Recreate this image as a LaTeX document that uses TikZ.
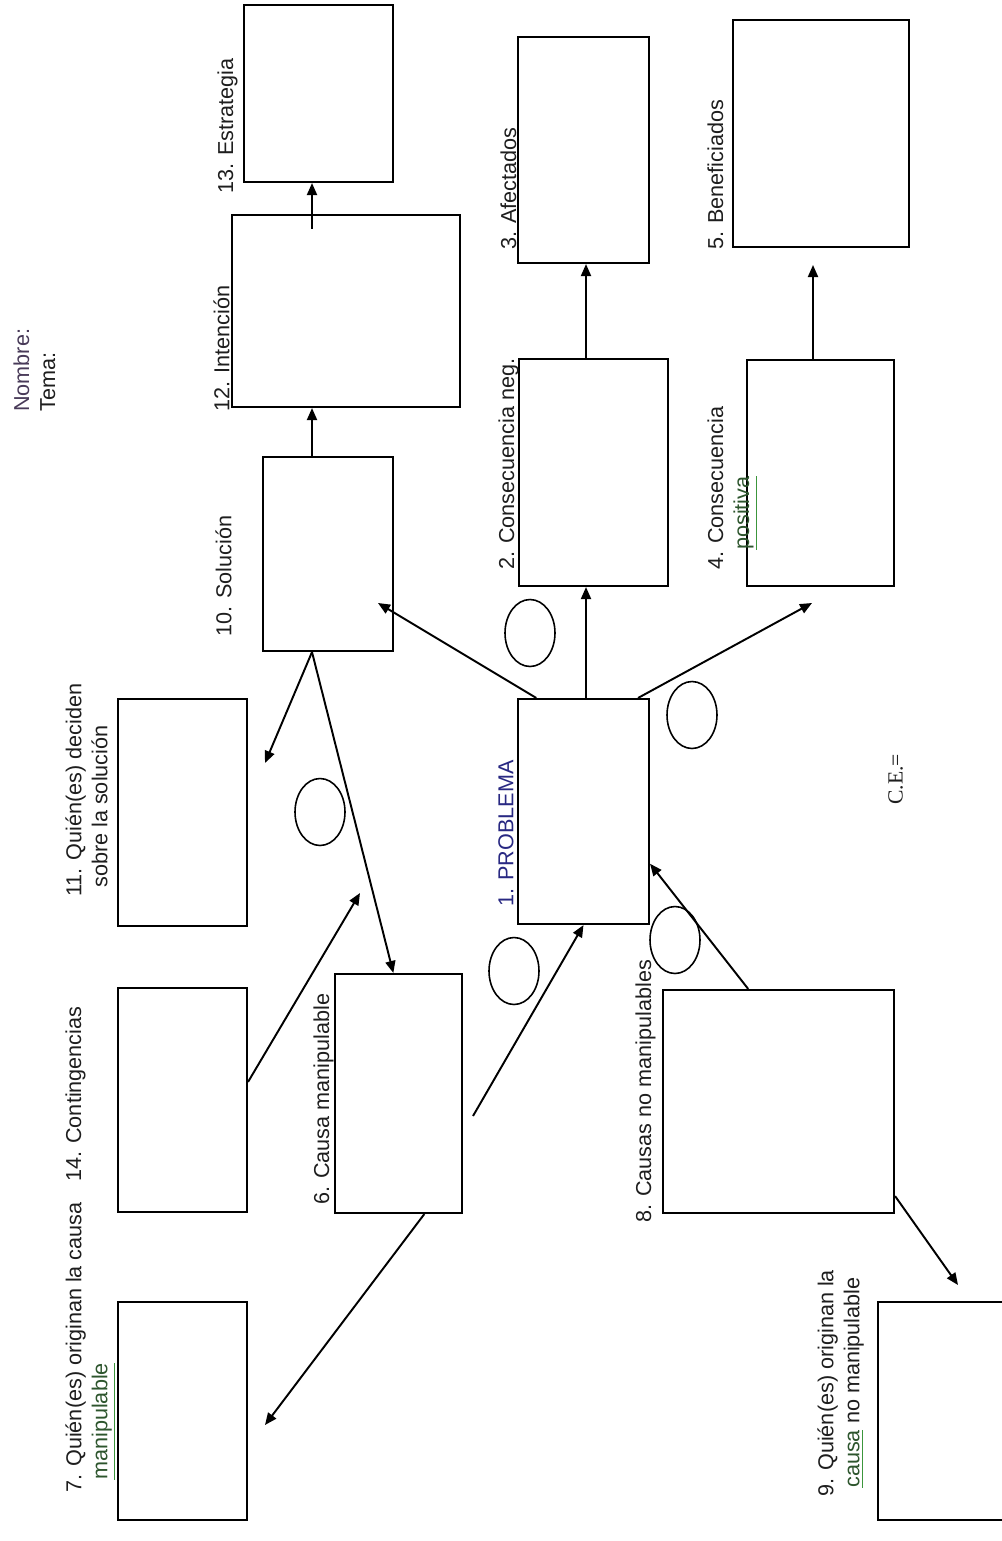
\documentclass[tikz,border=0pt]{standalone}
\usepackage{fontspec}
\setmainfont{Liberation Sans}
\newfontfamily\serifce{Liberation Serif}
\usepackage{tikz}
\usetikzlibrary{positioning,arrows.meta,calc,fit,shapes.geometric}

\definecolor{texto}{RGB}{30,30,30}
\definecolor{morado}{RGB}{72,58,88}
\definecolor{azulprob}{RGB}{40,40,130}
\definecolor{verde}{RGB}{60,150,60}
\definecolor{verdetxt}{RGB}{45,85,45}
\newcommand{\subverde}[1]{\textcolor{verde}{\underline{\textcolor{verdetxt}{#1}}}}

\begin{document}
\begin{tikzpicture}[
  x=0.02cm, y=-0.02cm,
  caja/.style={draw, line width=1.2pt, inner sep=0pt},
  ovalo/.style={draw, ellipse, line width=0.9pt, minimum width=1cm, minimum height=1.34cm, inner sep=0pt},
  etq/.style={rotate=90, anchor=north west, inner sep=0pt, align=left, font=\fontsize{12.3}{14.8}\selectfont, text=texto},
  flecha/.style={-{Triangle[length=0.24cm,width=0.2cm]}, line width=1.1pt},
]
\useasboundingbox (0,0) rectangle (1001,1541);
\fill[white] (0,0) rectangle (1001,1541);

% cajas
\node[caja, fit={(244,5) (393,182)}] (estrategia) {};
\node[caja, fit={(232,215) (460,407)}] (intencion) {};
\node[caja, fit={(263,457) (393,651)}] (solucion) {};
\node[caja, fit={(518,37) (649,263)}] (afectados) {};
\node[caja, fit={(733,20) (909,247)}] (beneficiados) {};
\node[caja, fit={(519,359) (668,586)}] (consneg) {};
\node[caja, fit={(747,360) (894,586)}] (conspos) {};
\node[caja, fit={(518,699) (649,924)}] (problema) {};
\node[caja, fit={(118,699) (247,926)}] (deciden) {};
\node[caja, fit={(118,988) (247,1212)}] (contingencias) {};
\node[caja, fit={(335,974) (462,1213)}] (causaman) {};
\node[caja, fit={(118,1302) (247,1520)}] (originan) {};
\node[caja, fit={(663,990) (894,1213)}] (causasno) {};
\node[caja, fit={(878,1302) (1040,1520)}] (originanno) {};

% circulos
\node[ovalo] (o1) at (530,633) {};
\node[ovalo] (o2) at (692,715) {};
\node[ovalo] (o3) at (675,940) {};
\node[ovalo] (o4) at (514,971) {};
\node[ovalo] (o5) at (320,812) {};

% textos
\node[etq] (tnombre) at (13,412) {\textcolor{morado}{Nombre:}\\Tema:};
\node[etq] (testrategia) at (217,194) {13. Estrategia};
\node[etq] (tintencion) at (213,412) {12. Intención};
\node[etq] (tsolucion) at (215,637) {10. Solución};
\node[etq] (tdeciden) at (65,897) {11. Quién(es) deciden\\\hspace*{0.18cm}sobre la solución};
\node[etq] (tconting) at (65,1182) {14. Contingencias};
\node[etq] (toriginan) at (65,1493) {7. Quién(es) originan la causa\\\hspace*{0.26cm}\subverde{manipulable}};
\node[etq] (tcausaman) at (313,1205) {6. Causa manipulable};
\node[etq, text=azulprob] (tproblema) at (498,907) {1. PROBLEMA};
\node[etq] (tconsneg) at (498,570) {2. Consecuencia neg.};
\node[etq] (tafectados) at (500,250) {3. Afectados};
\node[etq] (tconspos) at (707,570) {4. Consecuencia\\\hspace*{0.4cm}\subverde{positiva}};
\node[etq] (tbenef) at (707,250) {5. Beneficiados};
\node[etq] (tcausasno) at (635,1223) {8. Causas no manipulables};
\node[etq] (toriginanno) at (817,1497) {9. Quién(es) originan la\\\hspace*{0.18cm}\subverde{causa} no manipulable};
\node[etq, font=\serifce\fontsize{12.3}{14.8}\selectfont] (tce) at (888,805) {C.E.=};

% puntos sueltos
\coordinate (eje) at (312,0);
\coordinate (eje2) at (586,0);
\coordinate (eje3) at (813,0);
\coordinate (fbenef) at (813,265);
\coordinate (fconspos) at (812,603);
\coordinate (fsol) at (378,603);
\coordinate (fdeciden) at (265,763);
\coordinate (fconting) at (360,893);
\coordinate (foriginan) at (265,1425);
\coordinate (foriginanno) at (958,1285);
\coordinate (icausa) at (473,1116);

% flechas
\draw[flecha] ($(eje |- intencion.north)+(0,15)$) -- (eje |- estrategia.south);
\draw[flecha] (eje |- solucion.north) -- (eje |- intencion.south);
\draw[flecha] (eje2 |- consneg.north) -- (eje2 |- afectados.south);
\draw[flecha] (eje2 |- problema.north) -- (eje2 |- consneg.south);
\draw[flecha] (eje3 |- conspos.north) -- (fbenef);
\draw[flecha] ($(problema.north west)!0.91!(problema.north east)$) -- (fconspos);
\draw[flecha] ($(problema.north west)!0.145!(problema.north east)$) -- (fsol);
\draw[flecha] (eje |- solucion.south) -- (fdeciden);
\draw[flecha] (eje |- solucion.south) -- ($(causaman.north west)!0.46!(causaman.north east)$);
\draw[flecha] ($(contingencias.north east)!0.42!(contingencias.south east)$) -- (fconting);
\draw[flecha] (icausa) -- (problema.south);
\draw[flecha] ($(causasno.north west)!0.37!(causasno.north east)$) -- ($(problema.north east)!0.73!(problema.south east)$);
\draw[flecha] ($(causaman.south west)!0.7!(causaman.south east)$) -- (foriginan);
\draw[flecha] ($(causasno.north east)!0.92!(causasno.south east)$) -- (foriginanno);
\end{tikzpicture}
\end{document}
